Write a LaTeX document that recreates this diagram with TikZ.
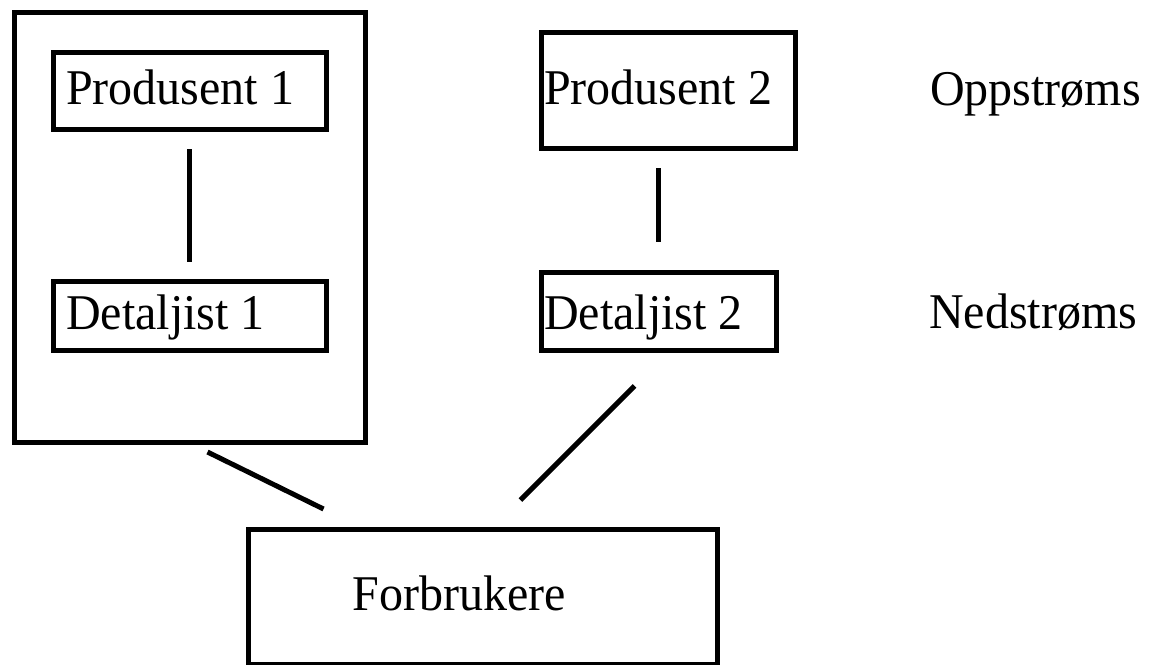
\documentclass[tikz,border=0pt]{standalone}
\usepackage{fontspec}
\setmainfont{Liberation Serif}[FakeStretch=0.96]
\begin{document}
\begin{tikzpicture}[x=1pt,y=-1pt,
  box/.style={draw=black, line width=5pt, inner sep=0pt, anchor=north west},
  lbl/.style={inner sep=0pt, anchor=base west, font=\fontsize{50}{60}\selectfont},
  conn/.style={draw=black, line width=5pt}]
\useasboundingbox (0,0) rectangle (1150,664);
% boxes
\node[box, minimum width=351pt, minimum height=430.5pt] (firm) at (11.5,9.5) {};
\node[box, minimum width=273pt, minimum height=77pt] (p1) at (50.5,49.5) {};
\node[box, minimum width=273pt, minimum height=69pt] (d1) at (50.5,278.5) {};
\node[box, minimum width=254pt, minimum height=116pt] (p2) at (539,29.5) {};
\node[box, minimum width=234.5pt, minimum height=78pt] (d2) at (539,269.5) {};
\node[box, minimum width=469pt, minimum height=135pt] (fb) at (245.5,526.5) {};
% texts
\node[lbl] (tp1) at (66,104) {Produsent 1};
\node[lbl] (td1) at (66,329) {Detaljist 1};
\node[lbl] (tp2) at (544,104) {Produsent 2};
\node[lbl] (td2) at (544,329) {Detaljist 2};
\node[lbl] (tfb) at (352.5,610) {Forbrukere};
\node[lbl] (up) at (930,105) {Oppstrøms};
\node[lbl] (down) at (929,328) {Nedstrøms};
% connectors
\draw[conn, shorten <=17.5pt, shorten >=16.5pt] (p1.south) -- (d1.north);
\draw[conn, shorten <=17.5pt, shorten >=27.5pt] (p2.south -| d2.north) -- (d2.north);
\coordinate (c1a) at (207.5,452);
\coordinate (c1b) at (323.5,509);
\coordinate (c2a) at (634.5,386);
\coordinate (c2b) at (520.5,500);
\draw[conn] (c1a) -- (c1b);
\draw[conn] (c2a) -- (c2b);
\end{tikzpicture}
\end{document}
